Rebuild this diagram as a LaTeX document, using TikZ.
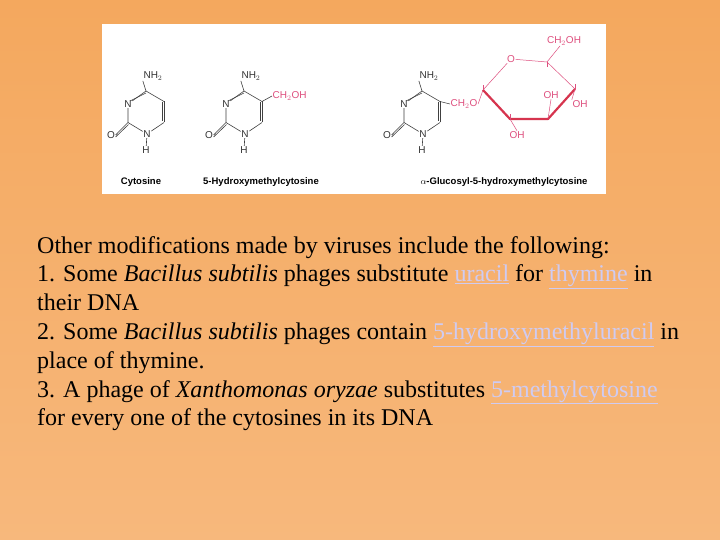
\documentclass[tikz,border=0pt]{standalone}
\usepackage{fontspec}
\setmainfont{Liberation Serif}
\newfontfamily\arial{Liberation Sans}
\usetikzlibrary{calc}
\definecolor{bgtop}{HTML}{F4A85E}
\definecolor{bgbot}{HTML}{F7B87C}
\definecolor{sug}{HTML}{DE4F7E}
\definecolor{sugdark}{HTML}{D6344E}
\definecolor{lnk}{HTML}{CFCBF2}
\newcommand{\lk}[1]{\textcolor{lnk}{\underline{#1}}}
\begin{document}
\begin{tikzpicture}[x=1pt,y=-1pt,
  bond/.style={draw=black!75,line width=0.6pt},
  sbond/.style={draw=sug,line width=0.5pt},
  lab/.style={font=\arial\fontsize{10}{11}\selectfont,inner sep=0.5pt,text=black!80},
  slab/.style={lab,text=sug},
  nm/.style={font=\arial\bfseries\fontsize{9.5}{10}\selectfont,inner sep=0pt,anchor=base},
  txt/.style={font=\fontsize{24}{26}\selectfont,anchor=base west,inner sep=0pt}]
\useasboundingbox (0,0) rectangle (720,540);
\shade[top color=bgtop,bottom color=bgbot] (0,0) rectangle (720,540);
\fill[white] (102,24) rectangle (606,194);
\newcommand{\pyr}[2]{%
 \begin{scope}[shift={(#1,0)}]
 \coordinate (#2c4) at (146,91); \coordinate (#2c5) at (164,101.5);
 \coordinate (#2c6) at (164,122.5); \coordinate (#2n1) at (146,133);
 \coordinate (#2c2) at (128,122.5); \coordinate (#2n3) at (128,101.5);
 \node[lab] (#2nh) at (153,76) {NH$_2$};
 \node[lab,fill=white] (#2n3l) at (128,104) {N};
 \node[lab,fill=white] (#2n1l) at (147,134) {N};
 \node[lab] (#2o) at (111,135) {O};
 \node[lab] (#2h) at (146,150) {H};
 \draw[bond] (#2c4)--(#2nh.south west);
 \draw[bond] (#2c4)--(#2c5) (#2c6)--(#2n1l) (#2n1l)--(#2c2) (#2c2)--(#2n3l) (#2n3l)--(#2c4);
 \draw[bond] ($(#2c5)+(-2.2,1)$)--($(#2c6)+(-2.2,-1)$) (#2c5)--(#2c6);
 \draw[bond] ($(#2n3l)+(2,-3)$)--($(#2c4)+(0,2)$);
 \draw[bond] (#2c2)--(#2o.east) ($(#2c2)+(0.5,2)$)--($(#2o.east)+(0,2)$);
 \draw[bond] (#2n1l)--(#2h);
 \end{scope}}
\pyr{0}{a}
\pyr{98}{b}
\pyr{276}{c}
\node[slab,anchor=west] (bch) at (272,96) {CH$_2$OH};
\draw[bond] (bc5)--(bch.west);
\node[slab,anchor=west] (cch) at (450,104) {CH$_2$O};
\draw[bond] (cc5)--(cch.west);
\coordinate (g1) at (483,90); \coordinate (g2) at (510,119);
\coordinate (g3) at (548,119); \coordinate (g4) at (575,89);
\coordinate (g5) at (547,62);
\node[slab,fill=white] (go) at (511,59) {O};
\node[slab] (g6) at (564,41) {CH$_2$OH};
\draw[sbond] (cch.east)--(g1)--(go)--(g5)--(g4);
\draw[sbond] (g5)--(g6);
\draw[draw=sugdark,line width=2.2pt,line join=round] (g1)--(g2)--(g3)--(g4);
\node[slab] (oh3) at (551,95) {OH};
\node[slab] (oh4) at (580,104) {OH};
\node[slab] (oh2) at (517,135) {OH};
\draw[sbond] (g3)--(oh3.south) (g4)--(oh4.north west) (g2)--(oh2.north);
\draw[sbond] (g2)--++(0,-5) (g1)--++(0,-5) (g4)--++(0,-5) (g5)--++(0,5);
\node[nm] (n1) at (141,185) {Cytosine};
\node[nm] (n2) at (261,185) {5-Hydroxymethylcytosine};
\node[nm] (n3) at (504,185) {$\alpha$-Glucosyl-5-hydroxymethylcytosine};
\node[txt] (t1) at (37,253) {Other modifications made by viruses include the following:};
\node[txt] (t2) at (37,281.8) {1. Some \textit{Bacillus subtilis} phages substitute \lk{uracil} for \lk{thymine} in};
\node[txt] (t3) at (37,310.6) {their DNA};
\node[txt] (t4) at (37,339.4) {2. Some \textit{Bacillus subtilis} phages contain \lk{5-hydroxymethyluracil} in};
\node[txt] (t5) at (37,368.2) {place of thymine.};
\node[txt] (t6) at (37,397) {3. A phage of \textit{Xanthomonas oryzae} substitutes \lk{5-methylcytosine}};
\node[txt] (t7) at (37,425.8) {for every one of the cytosines in its DNA};
\end{tikzpicture}
\end{document}
